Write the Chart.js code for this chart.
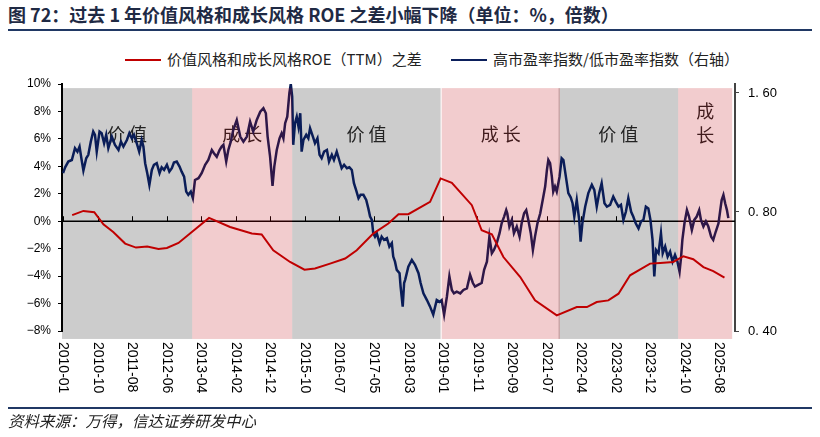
<!DOCTYPE html>
<html>
<head>
<meta charset="utf-8">
<script src="https://cdn.jsdelivr.net/npm/chart.js@4.4.0/dist/chart.umd.min.js"></script>
<style>
body{margin:0;background:#fff;width:820px;height:437px;overflow:hidden;position:relative;font-family:"Noto Sans CJK SC",sans-serif}
#title{position:absolute;left:8px;top:2px;font-size:18px;font-weight:bold;color:#1f2a44;white-space:nowrap;line-height:24px}
.rule{position:absolute;left:8px;width:804px;height:2px;background:#203864}
.leg{position:absolute;top:50px;font-size:15px;color:#222;white-space:nowrap;line-height:18px}
.leg i{display:inline-block;width:36px;height:2px;vertical-align:middle;margin-right:6px;position:relative;top:-1px}
#source{position:absolute;left:8px;top:410px;font-size:15.5px;font-style:italic;color:#222;white-space:nowrap;line-height:20px}
canvas{position:absolute;left:0;top:0}
</style>
</head>
<body>
<div id="title">图 72：过去 1 年价值风格和成长风格 ROE 之差小幅下降（单位：%，倍数）</div>
<div class="rule" style="top:29px"></div>
<div class="leg" style="left:125px"><i style="background:#c00000"></i>价值风格和成长风格ROE（TTM）之差</div>
<div class="leg" style="left:451px"><i style="background:#0b1f5c"></i>高市盈率指数/低市盈率指数（右轴）</div>
<canvas id="c" width="820" height="437"></canvas>
<div class="rule" style="top:407px"></div>
<div id="source">资料来源：万得，信达证券研发中心</div>
<script>
// 横轴: 自 2010-01 起的月数
const xLabels = ['2010-01','2010-10','2011-08','2012-06','2013-04','2014-02','2014-12','2015-10','2016-07','2017-05',
  '2018-03','2019-01','2019-11','2020-09','2021-07','2022-04','2023-02','2023-12','2024-10','2025-08']
const monthSpan = 187

// 价值风格和成长风格ROE(TTM)之差, %
const roeMonth = [2.6,5.8,8.9,11.5,14.3,17.7,20.8,24.0,27.2,29.6,32.9,36.7,41.6,47.6,53.8,56.6,59.9,64.7,68.8,71.8,
  76.1,80.4,83.7,88.4,92.7,95.6,98.4,104.6,107.6,110.8,116.5,119.3,122.2,125.5,130.3,134.5,140.7,146.4,149.3,152.1,
  155.4,158.3,161.6,167.3,170.2,173.9,176.8,179.6,182.5,185.3,188.5]
const roeDiff = [0.44,0.75,0.66,-0.22,-0.78,-1.63,-1.92,-1.85,-2.02,-1.95,-1.58,-0.78,0.24,-0.42,-0.90,-0.97,-2.12,-2.97,-3.53,-3.45,
  -3.09,-2.72,-2.12,-0.90,-0.17,0.51,0.51,1.41,3.12,2.80,1.17,-0.66,-0.95,-2.61,-4.07,-5.77,-6.86,-6.26,-6.26,-5.89,
  -5.77,-5.28,-3.94,-3.09,-3.04,-2.97,-2.55,-2.77,-3.34,-3.63,-4.11]

// 高市盈率指数/低市盈率指数 (右轴)
const peMonth = [0,0.6,1.5,2.5,3.4,4.1,4.7,5.3,5.8,6.6,
  7.2,7.9,8.6,9.1,9.6,10.4,11.0,11.7,12.3,12.9,
  13.9,14.8,15.8,16.5,17.2,18.2,18.9,19.6,20.2,21.0,
  21.7,22.4,22.9,23.4,24.0,24.6,25.3,25.9,26.7,27.5,
  28.1,28.8,29.6,30.3,31.0,31.6,32.4,33.2,33.8,34.5,
  35.1,35.7,36.4,37.0,37.6,38.6,39.5,40.5,41.4,42.4,
  43.0,43.8,44.6,45.2,45.7,46.5,47.1,47.8,48.5,49.5,
  50.5,51.4,52.4,53.3,54.2,55.2,56.2,57.1,57.8,58.3,
  59.0,59.7,60.2,60.9,61.7,62.3,62.8,63.3,63.9,64.5,
  64.9,65.3,65.6,66.1,66.6,67.1,67.6,68.0,68.5,69.3,
  69.9,70.4,71.2,71.8,72.5,73.1,73.7,74.4,75.2,75.8,
  76.6,77.2,78.0,78.7,79.4,80.1,80.9,81.6,82.3,82.9,
  83.5,84.2,84.8,85.6,86.4,87.0,87.5,88.0,88.4,88.9,
  89.4,90.2,90.8,91.5,92.3,93.0,93.7,94.1,94.6,95.1,
  95.9,96.2,96.8,97.2,97.5,98.4,99.4,100.3,101.3,101.9,
  102.7,103.7,104.6,105.5,106.5,107.3,107.9,108.6,109.4,110.1,
  110.8,111.4,112.2,113.2,114.1,115.1,116.0,116.8,117.4,118.4,
  119.3,120.0,120.8,121.5,122.2,122.8,123.6,124.4,125.0,125.7,
  126.3,126.6,127.2,127.9,128.5,129.3,130.1,130.7,131.4,132.0,
  132.6,133.3,133.9,134.5,135.2,136.0,136.7,137.4,137.9,138.3,
  138.8,139.3,139.7,140.2,140.7,141.5,142.1,142.6,143.3,144.0,
  144.7,145.2,145.7,146.4,147.1,147.5,148.0,148.8,149.7,150.7,
  151.4,152.1,152.8,153.5,154.3,155.0,155.9,156.8,157.5,158.3,
  159.0,159.7,160.4,161.1,161.9,162.5,163.2,164.0,164.7,165.4,
  166.1,166.8,167.4,168.0,168.5,169.0,169.7,170.4,170.9,171.6,
  172.3,173.0,173.7,174.4,175.1,175.7,176.1,176.5,177.1,177.8,
  178.4,179.2,179.9,180.6,181.3,181.8,182.5,183.2,183.9,184.7,
  185.3,186.0,186.8,187.3,187.7,188.2,188.7,189.2,189.6]
const peRatio = [1.003,1.038,1.073,1.083,1.160,1.137,1.171,1.083,1.018,1.094,
  1.116,1.205,1.278,1.254,1.137,1.278,1.266,1.194,1.254,1.160,
  1.241,1.183,1.148,1.205,1.171,1.217,1.266,1.229,1.254,1.194,
  1.137,1.217,1.171,1.063,1.003,0.937,1.022,1.053,1.063,1.003,
  1.038,1.022,1.053,1.012,1.032,1.067,1.073,1.042,1.012,0.983,
  0.901,0.884,0.901,0.867,0.964,0.974,1.003,1.053,1.083,1.148,
  1.127,1.104,1.148,1.171,1.183,1.073,1.148,1.205,1.290,1.367,
  1.241,1.205,1.241,1.354,1.278,1.367,1.435,1.464,1.422,1.241,
  1.104,0.932,1.042,1.148,1.229,1.266,1.229,1.342,1.394,1.598,
  1.686,1.566,1.183,1.342,1.394,1.315,1.422,1.137,1.217,1.254,
  1.229,1.303,1.241,1.194,1.229,1.116,1.094,1.137,1.148,1.073,
  1.116,1.083,1.137,1.083,1.032,1.053,1.032,1.038,1.022,0.946,
  0.910,0.867,0.884,0.884,0.858,0.817,0.779,0.764,0.707,0.693,
  0.707,0.667,0.693,0.680,0.687,0.654,0.667,0.617,0.599,0.571,
  0.560,0.518,0.461,0.529,0.539,0.582,0.605,0.588,0.560,0.529,
  0.498,0.479,0.461,0.440,0.479,0.474,0.479,0.440,0.489,0.550,
  0.508,0.498,0.503,0.498,0.508,0.513,0.555,0.529,0.518,0.524,
  0.529,0.571,0.599,0.693,0.629,0.641,0.667,0.707,0.749,0.779,
  0.809,0.794,0.735,0.764,0.707,0.735,0.693,0.749,0.794,0.809,
  0.764,0.707,0.641,0.693,0.749,0.794,0.858,0.928,1.022,1.083,
  1.063,0.983,0.901,0.928,0.901,0.983,1.094,1.083,0.983,0.893,
  0.870,0.842,0.779,0.858,0.764,0.673,0.749,0.825,0.893,0.937,
  0.910,0.825,0.893,0.946,0.842,0.825,0.834,0.875,0.850,0.825,
  0.834,0.764,0.801,0.867,0.801,0.779,0.749,0.727,0.757,0.764,
  0.825,0.817,0.764,0.680,0.550,0.641,0.629,0.707,0.629,0.654,
  0.617,0.635,0.599,0.623,0.599,0.565,0.611,0.680,0.749,0.809,
  0.779,0.720,0.764,0.779,0.809,0.764,0.735,0.757,0.735,0.693,
  0.680,0.713,0.749,0.809,0.858,0.884,0.842,0.809,0.772]
const peTicks = [0.4, 0.8, 1.6]

// 风格区间
const styleName = ['价值','成长','价值','成长','价值','成长']
const styleStart = [-0.3, 36.8, 65.3, 107.9, 141.2, 175.3]
const styleEnd = [36.8, 65.3, 107.6, 141.6, 175.3, 190.7]

const xTickPos = xLabels.map((l,i)=> i*monthSpan/(xLabels.length-1))

const bandPlugin = {
    id: 'bands',
    beforeDraw(chart){
        const {ctx, scales:{x, y}} = chart
        const top = y.getPixelForValue(9.7)
        const bottom = y.getPixelForValue(-8.58)
        ctx.save()
        ctx.fillStyle = '#cccccc'
        styleName.forEach((n,i)=>{
            if(n=='价值'){
                const l = x.getPixelForValue(styleStart[i])
                const r = x.getPixelForValue(styleEnd[i])
                ctx.fillRect(l, top, r-l, bottom-top)
            }
        })
        // 区间文字
        ctx.fillStyle = '#222'
        ctx.font = '18px "Noto Sans CJK SC"'
        ctx.textAlign = 'center'
        ctx.textBaseline = 'middle'
        styleName.forEach((n,i)=>{
            const cx = x.getPixelForValue((styleStart[i]+styleEnd[i])/2)
            const w = x.getPixelForValue(styleEnd[i]) - x.getPixelForValue(styleStart[i])
            if(w > 60){
                const cy = y.getPixelForValue(6.35)
                ctx.fillText(n[0], cx-11, cy)
                ctx.fillText(n[1], cx+11, cy)
            }else{
                ctx.fillText(n[0], cx, y.getPixelForValue(8.0))
                ctx.fillText(n[1], cx, y.getPixelForValue(6.3))
            }
        })
        ctx.restore()
    },
    beforeDatasetsDraw(chart){
        const {ctx, chartArea, scales:{x, y}} = chart
        const y0 = y.getPixelForValue(0)
        ctx.save()
        ctx.strokeStyle = '#000'
        ctx.lineWidth = 1.5
        ctx.beginPath()
        ctx.moveTo(chartArea.left, y0)
        ctx.lineTo(chartArea.right, y0)
        ctx.stroke()
        ctx.lineWidth = 1
        ctx.beginPath()
        xTickPos.forEach(v=>{
            const px = Math.round(x.getPixelForValue(v)) + 0.5
            ctx.moveTo(px, y0)
            ctx.lineTo(px, y0-5)
        })
        ctx.stroke()
        ctx.restore()
    },
    afterDatasetsDraw(chart){
        const {ctx, scales:{x, y}} = chart
        const top = y.getPixelForValue(9.7)
        const bottom = y.getPixelForValue(-8.58)
        ctx.save()
        ctx.fillStyle = 'rgba(190,0,10,0.2)'
        styleName.forEach((n,i)=>{
            if(n=='成长'){
                const l = x.getPixelForValue(styleStart[i])
                const r = x.getPixelForValue(styleEnd[i])
                ctx.fillRect(l, top, r-l, bottom-top)
            }
        })
        ctx.restore()
    },
    afterDraw(chart){
        const {ctx, chartArea, scales:{x}} = chart
        ctx.save()
        ctx.fillStyle = '#000'
        ctx.font = '14px "Liberation Sans", Arial'
        ctx.textAlign = 'left'
        ctx.textBaseline = 'middle'
        xLabels.forEach((lab,i)=>{
            ctx.save()
            ctx.translate(x.getPixelForValue(xTickPos[i]), chartArea.bottom + 11)
            ctx.rotate(Math.PI/2)
            ctx.fillText(lab, 0, 0)
            ctx.restore()
        })
        ctx.restore()
    }
}

const canvas = document.getElementById('c')
new Chart(canvas, {
    type: 'line',
    data: {
        datasets: [
            {
                label: '价值风格和成长风格ROE（TTM）之差',
                data: roeMonth.map((m,i)=>({x: m, y: roeDiff[i]})),
                yAxisID: 'y',
                borderColor: '#c00000',
                borderWidth: 2,
                pointRadius: 0,
                tension: 0
            },
            {
                label: '高市盈率指数/低市盈率指数（右轴）',
                data: peMonth.map((m,i)=>({x: m, y: peRatio[i]})),
                yAxisID: 'y1',
                borderColor: '#0a1d58',
                borderWidth: 2.5,
                pointRadius: 0,
                tension: 0
            }
        ]
    },
    options: {
        responsive: false,
        animation: false,
        layout: {padding: {top: 84, left: 0, right: 0, bottom: 0}},
        plugins: {legend: {display: false}, tooltip: {enabled: false}},
        scales: {
            x: {
                type: 'linear', min: -0.3, max: 191.5,
                grid: {display: false}, border: {display: false}, ticks: {display: false},
                afterFit(s){ s.height = 106 }
            },
            y: {
                position: 'left', min: -8, max: 10,
                ticks: {
                    stepSize: 2, color: '#000', padding: 7,
                    font: {size: 12, family: '"Liberation Sans", Arial'},
                    callback: v => (v<0 ? '−'+(-v) : v) + '%'
                },
                grid: {drawOnChartArea: false, tickLength: 4, color: '#000'},
                border: {color: '#000', width: 2},
                afterFit(s){ s.width = 62 }
            },
            y1: {
                type: 'logarithmic', position: 'right', min: 0.4, max: 1.686,
                afterBuildTicks(s){ s.ticks = peTicks.map(v=>({value: v})) },
                ticks: {
                    color: '#000', padding: 9,
                    font: {size: 13, family: '"Liberation Sans", Arial'},
                    callback: v => v.toFixed(2).replace('.', '. ')
                },
                grid: {drawOnChartArea: false, tickLength: 4, color: '#444'},
                border: {color: '#444', width: 2},
                afterFit(s){ s.width = 85 }
            }
        }
    },
    plugins: [bandPlugin]
})
</script>
</body>
</html>
